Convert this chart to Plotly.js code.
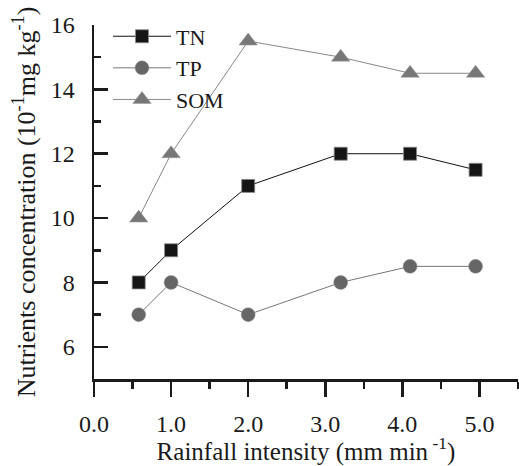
<!DOCTYPE html>
<html>
<head>
<meta charset="utf-8">
<script src="https://cdn.plot.ly/plotly-3.0.1.min.js"></script>
<style>html,body{margin:0;padding:0;background:#fff;}#chart{width:519px;height:466px;}</style>
</head>
<body>
<div id="chart"></div>
<script>
// Rainfall intensity (mm min-1)
const rainfall = [0.58, 1.0, 2.0, 3.2, 4.1, 4.95];
const seriesNames = ["TN", "TP", "SOM"];
const tnValues = [8, 9, 11, 12, 12, 11.5];
const tpValues = [7, 8, 7, 8, 8.5, 8.5];
const somValues = [10, 12, 15.5, 15, 14.5, 14.5];
const xTickVals = [0, 1, 2, 3, 4, 5];
const xTickText = ["0.0", "1.0", "2.0", "3.0", "4.0", "5.0"];
const yTickVals = [6, 8, 10, 12, 14, 16];

const FONT = "Liberation Serif, Times New Roman, Times, serif";

const traces = [
  {
    x: rainfall, y: tnValues, name: seriesNames[0], type: "scatter", mode: "lines+markers",
    line: {color: "#111111", width: 1},
    marker: {symbol: "square", size: 13, color: "#151515", line: {color: "#888888", width: 0.8}}
  },
  {
    x: rainfall, y: tpValues, name: seriesNames[1], type: "scatter", mode: "lines+markers",
    line: {color: "#777777", width: 1},
    marker: {symbol: "circle", size: 14, color: "#666666", line: {color: "#999999", width: 0.5}}
  },
  {
    x: rainfall, y: somValues, name: seriesNames[2], type: "scatter", mode: "lines+markers",
    line: {color: "#888888", width: 1},
    marker: {symbol: "triangle-up", size: 16, color: "#777777", line: {color: "#999999", width: 0.5}}
  }
];

const layout = {
  width: 519, height: 466,
  margin: {l: 94, r: 1, t: 25, b: 87},
  paper_bgcolor: "#ffffff", plot_bgcolor: "#ffffff",
  font: {family: FONT, color: "#1a1a1a", size: 22},
  showlegend: true,
  legend: {
    x: 0.033, y: 1.027, xanchor: "left", yanchor: "top",
    bgcolor: "rgba(0,0,0,0)", borderwidth: 0,
    font: {family: FONT, size: 22, color: "#1a1a1a"},
    tracegroupgap: 0, itemwidth: 58
  },
  xaxis: {
    range: [0, 5.5], showgrid: false, zeroline: false,
    showline: true, linecolor: "#1a1a1a", linewidth: 2.5,
    ticks: "outside", ticklen: 15, tickwidth: 2.5, tickcolor: "#1a1a1a",
    tickmode: "array", tickvals: xTickVals, ticktext: xTickText,
    tickfont: {family: FONT, size: 24, color: "#1a1a1a"},
    ticklabelstandoff: 7,
    minor: {ticks: "outside", ticklen: 7, tickwidth: 2.5, tickcolor: "#1a1a1a", dtick: 0.5, tick0: 0, showgrid: false},
    title: {text: "Rainfall intensity (mm min<sup> -1</sup>)", font: {family: FONT, size: 25, color: "#1a1a1a"}, standoff: 14}
  },
  yaxis: {
    range: [5, 16], showgrid: false, zeroline: false,
    showline: true, linecolor: "#1a1a1a", linewidth: 2.5,
    ticks: "inside", ticklen: 14, tickwidth: 2.5, tickcolor: "#1a1a1a",
    tickmode: "array", tickvals: yTickVals,
    tickfont: {family: FONT, size: 24, color: "#1a1a1a"},
    ticklabelstandoff: 12,
    minor: {ticks: "inside", ticklen: 7, tickwidth: 2.5, tickcolor: "#1a1a1a", dtick: 1, tick0: 5, showgrid: false},
    title: {text: "Nutrients concentration (10<sup>-1</sup>mg kg<sup>-1</sup>)", font: {family: FONT, size: 26, color: "#1a1a1a"}, standoff: 8}
  }
};

Plotly.newPlot("chart", traces, layout, {displayModeBar: false, staticPlot: true});
</script>
</body>
</html>
